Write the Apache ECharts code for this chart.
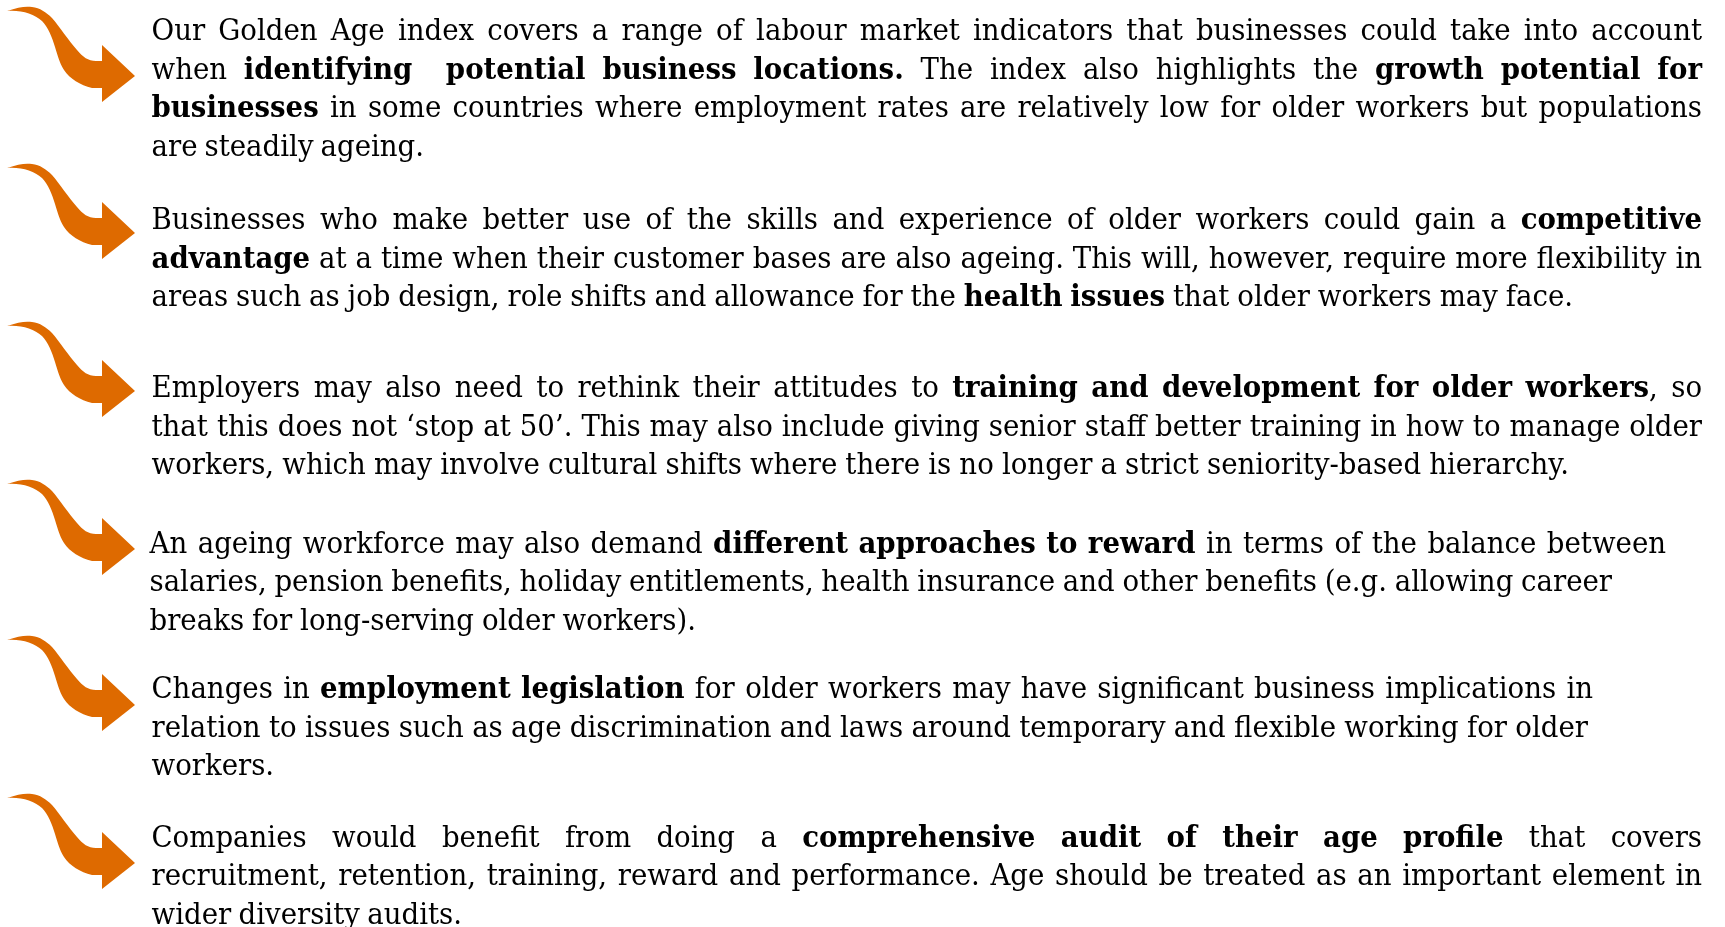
<!DOCTYPE html>
<html>
<head>
<meta charset="utf-8">
<script src="https://cdn.jsdelivr.net/npm/echarts@6/dist/echarts.min.js"></script>
<style>
html,body{margin:0;padding:0;background:#ffffff;}
#chart{width:1725px;height:927px;}
</style>
</head>
<body>
<div id="chart"></div>
<script>
// ---- Content (text of each bullet, line by line; **...** = bold) ----
const bullet1 = [
  "Our Golden Age index covers a range of labour market indicators that businesses could take into account",
  "when **identifying  potential business locations.** The index also highlights the **growth potential for**",
  "**businesses** in some countries where employment rates are relatively low for older workers but populations",
  "are steadily ageing."
];
const bullet2 = [
  "Businesses who make better use of the skills and experience of older workers could gain a **competitive**",
  "**advantage** at a time when their customer bases are also ageing. This will, however, require more flexibility in",
  "areas such as job design, role shifts and allowance for the **health issues** that older workers may face."
];
const bullet3 = [
  "Employers may also need to rethink their attitudes to **training and development for older workers**, so",
  "that this does not \u2018stop at 50\u2019. This may also include giving senior staff better training in how to manage older",
  "workers, which may involve cultural shifts where there is no longer a strict seniority-based hierarchy."
];
const bullet4 = [
  "An ageing workforce may also demand **different approaches to reward** in terms of the balance between",
  "salaries, pension benefits, holiday entitlements, health insurance and other benefits (e.g. allowing career",
  "breaks for long-serving older workers)."
];
const bullet5 = [
  "Changes in **employment legislation** for older workers may have significant business implications in",
  "relation to issues such as age discrimination and laws around temporary and flexible working for older",
  "workers."
];
const bullet6 = [
  "Companies would benefit from doing a **comprehensive audit of their age profile** that covers",
  "recruitment, retention, training, reward and performance. Age should be treated as an important element in",
  "wider diversity audits."
];

// ---- Layout / style ----
const FONT_FAMILY = '"DejaVu Serif", Georgia, serif';
const FONT_SIZE = 29;
const LINE_H = 38.5;
const RIGHT = 1702;
const ORANGE = '#de6a00';
const ARROW_PATH = 'M7 4 C18 0 26 -1 32 0 C40 1 46 5 52 11 C60 20 68 33 77 43 C83 50 88 54 96 54 ' +
  'L102 54 L102 38 L135 69 L102 95 L102 81 L92 81 C80 78 70 72 64 63 C59 55 57 46 55 40 ' +
  'C52 30 48 20 42 14 C34 7 22 3 7 4 Z';

const blocks = [
  {lines: bullet1, x0: 151.5, base: 40,    arrowTop: 7,   ends: [RIGHT, RIGHT, RIGHT, 419], just: [1,1,1,0]},
  {lines: bullet2, x0: 151.5, base: 229,   arrowTop: 164, ends: [RIGHT, RIGHT, 1573], just: [1,1,0]},
  {lines: bullet3, x0: 151.5, base: 397,   arrowTop: 322, ends: [RIGHT, RIGHT, 1569], just: [1,1,0]},
  {lines: bullet4, x0: 149.5, base: 552.5, arrowTop: 480, ends: [1666, 1612, 696], just: [0,0,0]},
  {lines: bullet5, x0: 151.5, base: 698,   arrowTop: 636, ends: [1593, 1588, 272], just: [0,0,0]},
  {lines: bullet6, x0: 151.5, base: 846.5, arrowTop: 794, ends: [RIGHT, RIGHT, 462], just: [1,1,0]}
];

const cv = document.createElement('canvas');
const ctx = cv.getContext('2d');
function fontStr(bold){ return (bold ? 'bold ' : 'normal ') + FONT_SIZE + 'px ' + FONT_FAMILY; }
function measure(t, bold){ ctx.font = fontStr(bold); return ctx.measureText(t).width; }
const SPACE_W = measure(' ', false);

function parseLine(str){
  const parts = str.split('**');
  const words = [];
  let cur = null, pending = 0;
  parts.forEach((txt, pi) => {
    const bold = pi % 2 === 1;
    for (const ch of txt) {
      if (ch === ' ') {
        if (cur) { words.push(cur); cur = null; }
        pending++;
      } else {
        if (!cur) { cur = {pieces: [], gaps: words.length ? pending : 0}; pending = 0; }
        const last = cur.pieces[cur.pieces.length - 1];
        if (last && last.b === bold) last.t += ch; else cur.pieces.push({t: ch, b: bold});
      }
    }
  });
  if (cur) words.push(cur);
  words.forEach(w => { w.pieces.forEach(p => p.w = measure(p.t, p.b)); w.w = w.pieces.reduce((s, p) => s + p.w, 0); });
  const totalGaps = words.reduce((s, w) => s + w.gaps, 0);
  const natural = words.reduce((s, w) => s + w.w, 0) + totalGaps * SPACE_W;
  return {words, totalGaps, natural};
}

// global horizontal scale from the long, ragged (non-justified) lines
const refLines = [[3,0],[3,1],[4,0],[4,1],[1,2],[2,2]];
let sumT = 0, sumN = 0;
refLines.forEach(([b, l]) => { const bl = blocks[b]; sumT += bl.ends[l] - bl.x0; sumN += parseLine(bl.lines[l]).natural; });
const S = sumT / sumN;

const elements = [];
const BASE_OFF = FONT_SIZE * 0.257;
blocks.forEach(bl => {
  bl.lines.forEach((line, li) => {
    const p = parseLine(line);
    const avail = bl.ends[li] - bl.x0;
    let extra = p.totalGaps ? (avail - S * p.natural) / p.totalGaps : 0;
    if (!bl.just[li]) {
      const sp = S * SPACE_W;
      extra = Math.max(-0.2 * sp, Math.min(0.4 * sp, extra));
    }
    let x = bl.x0;
    const y = bl.base + li * LINE_H - BASE_OFF;
    p.words.forEach(w => {
      x += w.gaps * (S * SPACE_W + extra);
      w.pieces.forEach(pc => {
        elements.push({
          type: 'text', x: x, y: y, scaleX: S, silent: true,
          style: {
            text: pc.t, fill: '#000000',
            fontSize: FONT_SIZE, fontFamily: FONT_FAMILY, fontWeight: pc.b ? 'bold' : 'normal',
            align: 'left', verticalAlign: 'middle'
          }
        });
        x += S * pc.w;
      });
    });
  });
});

const arrowData = blocks.map(bl => [0, bl.arrowTop]);

const chart = echarts.init(document.getElementById('chart'), null, {renderer: 'canvas'});
chart.setOption({
  backgroundColor: '#ffffff',
  animation: false,
  grid: {left: 0, right: 0, top: 0, bottom: 0},
  xAxis: {type: 'value', min: 0, max: 1725, show: false},
  yAxis: {type: 'value', min: 0, max: 927, inverse: true, show: false},
  series: [{
    type: 'custom',
    silent: true,
    data: arrowData,
    renderItem: function (params, api) {
      const pt = api.coord([api.value(0), api.value(1)]);
      return {
        type: 'path',
        x: pt[0], y: pt[1],
        shape: {pathData: ARROW_PATH},
        style: {fill: ORANGE, stroke: null}
      };
    }
  }],
  graphic: {elements: elements}
});
</script>
</body>
</html>
